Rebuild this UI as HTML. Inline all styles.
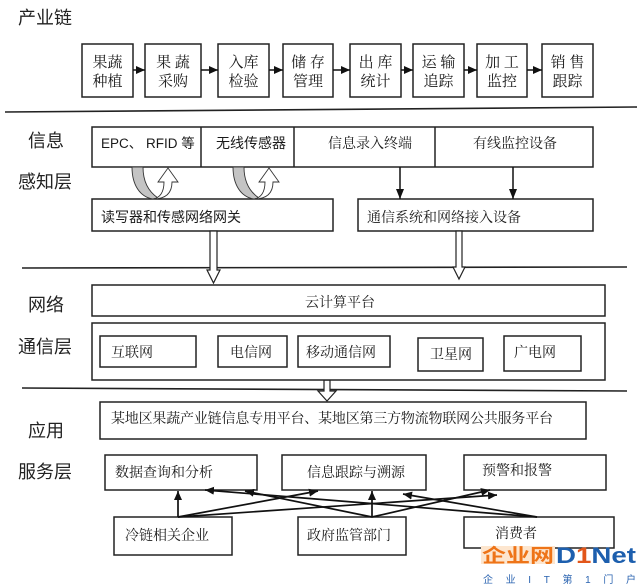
<!DOCTYPE html>
<html>
<head>
<meta charset="utf-8">
<style>
html,body{margin:0;padding:0;background:#fff;}
svg{display:block;}
.sv{font-family:"Liberation Serif","Noto Serif CJK SC",serif;fill:#1a1a1a;}
.ss{font-family:"Liberation Sans","Noto Sans CJK SC",sans-serif;fill:#1a1a1a;}
.lab{font-family:"Liberation Sans","Noto Sans CJK SC",sans-serif;font-size:18px;fill:#222;}
</style>
</head>
<body>
<svg width="640" height="586" viewBox="0 0 640 586" xmlns="http://www.w3.org/2000/svg">
<defs>
<marker id="ah" markerUnits="userSpaceOnUse" markerWidth="9" markerHeight="8" refX="9" refY="4" orient="auto"><path d="M0,0 L9,4 L0,8 z" fill="#111"/></marker>
<marker id="ah2" markerUnits="userSpaceOnUse" markerWidth="10" markerHeight="8" refX="10" refY="4" orient="auto"><path d="M0,0 L10,4 L0,8 z" fill="#111"/></marker>
</defs>

<!-- Layer labels -->
<text class="lab" x="18" y="24">产业链</text>
<text class="lab" x="28" y="147">信息</text>
<text class="lab" x="18" y="188">感知层</text>
<text class="lab" x="28" y="311">网络</text>
<text class="lab" x="18" y="353">通信层</text>
<text class="lab" x="28" y="437">应用</text>
<text class="lab" x="18" y="478">服务层</text>

<!-- Row 1 boxes -->
<g fill="#fff" stroke="#222" stroke-width="1.5">
<rect x="82" y="44" width="51" height="53"/>
<rect x="145" y="44" width="56" height="53"/>
<rect x="218" y="44" width="51" height="53"/>
<rect x="283" y="44" width="50" height="53"/>
<rect x="350" y="44" width="51" height="53"/>
<rect x="413" y="44" width="51" height="53"/>
<rect x="477" y="44" width="50" height="53"/>
<rect x="542" y="44" width="51" height="53"/>
</g>
<g stroke="#111" stroke-width="1.5" marker-end="url(#ah)">
<line x1="133" y1="70" x2="145" y2="70"/>
<line x1="201" y1="70" x2="218" y2="70"/>
<line x1="269" y1="70" x2="283" y2="70"/>
<line x1="333" y1="70" x2="350" y2="70"/>
<line x1="401" y1="70" x2="413" y2="70"/>
<line x1="464" y1="70" x2="477" y2="70"/>
<line x1="527" y1="70" x2="542" y2="70"/>
</g>
<g class="sv" font-size="15" text-anchor="middle">
<text x="107.5" y="67">果蔬</text><text x="107.5" y="86">种植</text>
<text x="173" y="67">果 蔬</text><text x="173" y="86">采购</text>
<text x="243.5" y="67">入库</text><text x="243.5" y="86">检验</text>
<text x="308" y="67">储 存</text><text x="308" y="86">管理</text>
<text x="375.5" y="67">出 库</text><text x="375.5" y="86">统计</text>
<text x="438.5" y="67">运 输</text><text x="438.5" y="86">追踪</text>
<text x="502" y="67">加 工</text><text x="502" y="86">监控</text>
<text x="567.5" y="67">销 售</text><text x="567.5" y="86">跟踪</text>
</g>

<!-- separators -->
<g stroke="#222" stroke-width="1.6">
<line x1="5" y1="112" x2="637" y2="107"/>
<line x1="22" y1="268" x2="627" y2="267"/>
<line x1="22" y1="388" x2="627" y2="391"/>
</g>

<!-- Perception layer -->
<g fill="#fff" stroke="#222" stroke-width="1.5">
<rect x="92" y="127" width="501" height="40"/>
<line x1="201" y1="127" x2="201" y2="167"/>
<line x1="294" y1="127" x2="294" y2="167"/>
<line x1="435" y1="127" x2="435" y2="167"/>
<rect x="92" y="199" width="241" height="32"/>
<rect x="358" y="199" width="235" height="32"/>
</g>
<text class="ss" x="101" y="148" font-size="13.5">EPC、 RFID 等</text>
<text class="ss" x="216" y="148" font-size="14">无线传感器</text>
<text class="sv" x="328" y="148" font-size="14">信息录入终端</text>
<text class="sv" x="473" y="148" font-size="14">有线监控设备</text>
<text class="ss" x="101" y="222" font-size="14">读写器和传感网络网关</text>
<text class="sv" x="367" y="222" font-size="14">通信系统和网络接入设备</text>

<!-- curved arrows -->
<g stroke="#333" stroke-width="0.9">
<path d="M132,167 C132,185 140,197 153,199 L158,198 C149,192 143,182 143,167 Z" fill="#c4c4c4"/>
<path d="M153,199 C160,198 164,192 164,182 L158,182 L168,168 L178,182 L172,182 C172,194 165,199 153,199 Z" fill="#fff"/>
</g>
<g transform="translate(101,0)" stroke="#333" stroke-width="0.9">
<path d="M132,167 C132,185 140,197 153,199 L158,198 C149,192 143,182 143,167 Z" fill="#c4c4c4"/>
<path d="M153,199 C160,198 164,192 164,182 L158,182 L168,168 L178,182 L172,182 C172,194 165,199 153,199 Z" fill="#fff"/>
</g>

<!-- filled down arrows -->
<g stroke="#111" stroke-width="1.5" marker-end="url(#ah2)">
<line x1="400" y1="167" x2="400" y2="199"/>
<line x1="513" y1="167" x2="513" y2="199"/>
</g>

<!-- hollow arrows -->
<g fill="#fff" stroke="#222" stroke-width="1.2">
<path d="M210,231 L217,231 L217,270 L220,270 L213.5,283 L207,270 L210,270 Z"/>
<path d="M456,231 L462,231 L462,267 L465,267 L459,279 L453,267 L456,267 Z"/>
<path d="M324,380 L330,380 L330,391 L336,391 L327,401 L318,391 L324,391 Z"/>
</g>

<!-- Network layer -->
<g fill="#fff" stroke="#222" stroke-width="1.5">
<rect x="92" y="285" width="513" height="31"/>
<rect x="92" y="323" width="513" height="57"/>
<rect x="100" y="336" width="96" height="31"/>
<rect x="218" y="336" width="69" height="31"/>
<rect x="298" y="336" width="92" height="31"/>
<rect x="418" y="338" width="65" height="33"/>
<rect x="504" y="336" width="77" height="35"/>
</g>
<g class="sv" font-size="14">
<text x="305" y="307">云计算平台</text>
<text x="111" y="357">互联网</text>
<text x="230" y="357">电信网</text>
<text x="306" y="357">移动通信网</text>
<text x="430" y="359">卫星网</text>
<text x="514" y="357">广电网</text>
</g>

<!-- Application layer -->
<g fill="#fff" stroke="#222" stroke-width="1.5">
<rect x="100" y="402" width="486" height="37"/>
<rect x="105" y="455" width="152" height="35"/>
<rect x="282" y="455" width="144" height="35"/>
<rect x="464" y="455" width="142" height="35"/>
<rect x="114" y="517" width="118" height="38"/>
<rect x="298" y="517" width="108" height="38"/>
<rect x="464" y="517" width="150" height="31"/>
</g>
<g class="sv" font-size="14">
<text x="111" y="423" textLength="442" lengthAdjust="spacing">某地区果蔬产业链信息专用平台、某地区第三方物流物联网公共服务平台</text>
<text x="115" y="477">数据查询和分析</text>
<text x="307" y="477">信息跟踪与溯源</text>
<text x="482" y="475">预警和报警</text>
<text x="125" y="540">冷链相关企业</text>
<text x="307" y="540">政府监管部门</text>
<text x="495" y="538">消费者</text>
</g>

<!-- cross arrows -->
<g stroke="#111" stroke-width="1.7" marker-end="url(#ah)">
<line x1="178" y1="517" x2="178" y2="491"/>
<line x1="178" y1="517" x2="318" y2="491"/>
<line x1="178" y1="517" x2="497" y2="495"/>
<line x1="372" y1="517" x2="372" y2="491"/>
<line x1="372" y1="517" x2="245" y2="491"/>
<line x1="372" y1="517" x2="490" y2="490"/>
<line x1="537" y1="517" x2="205" y2="490"/>
<line x1="537" y1="517" x2="403" y2="494"/>
</g>

<!-- watermark -->
<rect x="481" y="546" width="74" height="18" fill="#fde6cf"/>
<text x="482" y="562" font-size="19" font-weight="bold" fill="#ee7418" textLength="72" lengthAdjust="spacingAndGlyphs" style="font-family:'Liberation Sans','Noto Sans CJK SC',sans-serif">企业网</text>
<text x="556" y="563" font-size="22" font-weight="bold" fill="#1d5fae" textLength="80" lengthAdjust="spacingAndGlyphs" style="font-family:'Liberation Sans',sans-serif">D<tspan fill="#e2561a">1</tspan>Net</text>
<text x="483" y="583" font-size="10" fill="#2a63b0" textLength="153" lengthAdjust="spacing" style="font-family:'Liberation Sans','Noto Sans CJK SC',sans-serif">企业IT第1门户</text>
</svg>
</body>
</html>
